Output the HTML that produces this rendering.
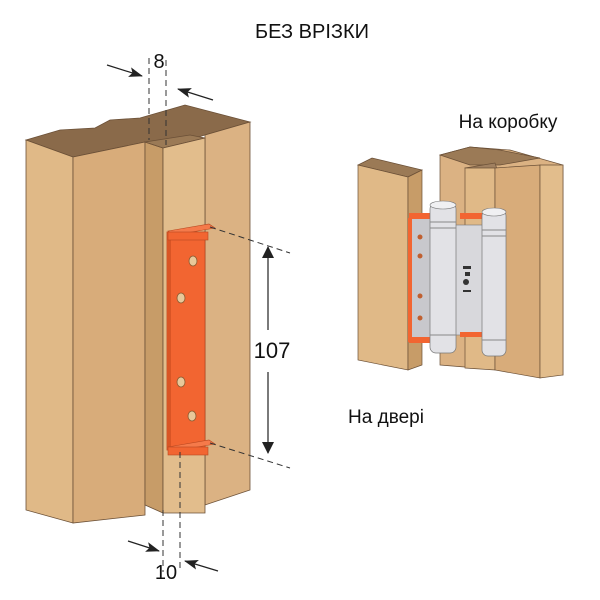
<!DOCTYPE html>
<html><head><meta charset="utf-8"><style>
html,body{margin:0;padding:0;background:#fff;width:600px;height:600px;overflow:hidden}
svg{display:block}
text{font-family:"Liberation Sans","DejaVu Sans",sans-serif;fill:#111}
</style></head><body>
<svg width="600" height="600" viewBox="0 0 600 600" xmlns="http://www.w3.org/2000/svg">
<defs>
<marker id="ah" markerWidth="14" markerHeight="12" refX="13" refY="6" orient="auto" markerUnits="userSpaceOnUse"><path d="M0,1 L14,6 L0,11 L3,6 Z" fill="#222"/></marker>
<marker id="ah2" markerWidth="12" markerHeight="14" refX="11" refY="6" orient="auto" markerUnits="userSpaceOnUse"><path d="M0,0 L12,6 L0,12 Z" fill="#222"/></marker>
</defs>
<text x="312" y="38" font-size="20" text-anchor="middle">БЕЗ ВРІЗКИ</text>
<text x="508" y="128" font-size="19" text-anchor="middle">На коробку</text>
<text x="386" y="423" font-size="19" text-anchor="middle">На двері</text>

<g stroke="#6b5037" stroke-width="0.8">
<polygon points="26,140 60,130 95,128 110,120 140,118 185,105 250,122 205,135 163,148 145,142 73,157" fill="#8a6a4a"/>
<polygon points="205,135 250,122 250,490 205,505" fill="#dbb283"/>
<polygon points="26,140 73,157 73,523 26,510" fill="#e0b987"/>
<polygon points="73,157 145,142 145,515 73,523" fill="#d8ac7a"/>
<polygon points="145,142 163,148 163,513 145,505" fill="#c79c68"/>
<polygon points="145,142 190,135 205,138 163,148" fill="#9b7a56"/>
<polygon points="163,148 205,138 205,513 163,513" fill="#e2bd8c"/>
</g>
<rect x="167" y="232" width="38" height="218" fill="#f26531" stroke="#b84820" stroke-width="0.8"/>
<rect x="167" y="232" width="4" height="218" fill="#d95525"/>
<polygon points="168,231 209,224 215,228 174,235" fill="#f57a4a" stroke="#b84820" stroke-width="0.6"/>
<rect x="168" y="232" width="40" height="8" fill="#f26531" stroke="#b84820" stroke-width="0.6"/>
<polygon points="168,447 209,440 215,444 174,451" fill="#f57a4a" stroke="#b84820" stroke-width="0.6"/>
<rect x="168" y="447" width="40" height="8" fill="#f26531" stroke="#b84820" stroke-width="0.6"/>
<g fill="#e8c89a" stroke="#8a5a30" stroke-width="0.8">
<ellipse cx="193" cy="261" rx="4" ry="5"/><ellipse cx="181" cy="298" rx="4" ry="5"/>
<ellipse cx="181" cy="382" rx="4" ry="5"/><ellipse cx="192" cy="416" rx="4" ry="5"/>
</g>
<g stroke="#333" stroke-width="1" stroke-dasharray="6,4" fill="none">
<line x1="149" y1="58" x2="149" y2="140"/><line x1="166" y1="60" x2="166" y2="145"/>
<line x1="210" y1="227" x2="290" y2="253"/><line x1="210" y1="443" x2="290" y2="468"/>
<line x1="163" y1="510" x2="163" y2="572"/><line x1="180" y1="452" x2="180" y2="572"/>
</g>
<g stroke="#222" stroke-width="1.2">
<line x1="107" y1="65" x2="142" y2="76" marker-end="url(#ah)"/>
<line x1="213" y1="100" x2="178" y2="89" marker-end="url(#ah)"/>
<line x1="128" y1="541" x2="159" y2="551" marker-end="url(#ah)"/>
<line x1="218" y1="571" x2="185" y2="561" marker-end="url(#ah)"/>
<line x1="268" y1="330" x2="268" y2="247" marker-end="url(#ah2)"/>
<line x1="268" y1="372" x2="268" y2="453" marker-end="url(#ah2)"/>
</g>
<text x="159" y="68" font-size="20" text-anchor="middle">8</text>
<text x="166" y="579" font-size="20" text-anchor="middle">10</text>
<text x="272" y="358" font-size="22" text-anchor="middle">107</text>

<g stroke="#6b5037" stroke-width="0.7">
<polygon points="440,155 470,147 510,150 563,165 563,375 440,365" fill="#dbb283"/>
<polygon points="440,155 470,147 500,150 540,158 500,165 470,165" fill="#9b7a56"/>
<polygon points="465,168 495,163 498,172 468,172" fill="#a08060"/>
<polygon points="465,168 495,168 495,370 465,368" fill="#e0b987"/>
<polygon points="495,168 540,165 540,378 495,370" fill="#d8ac7a"/>
<polygon points="540,165 563,165 563,375 540,378" fill="#e2bd8c"/>
<polygon points="358,165 372,158 422,170 408,177" fill="#9b7a56"/>
<polygon points="358,165 408,177 408,370 358,360" fill="#e0b987"/>
<polygon points="408,177 422,170 422,365 408,370" fill="#c79c68"/>
</g>
<polygon points="410,218 432,214 432,338 410,342" fill="#c8c8cc" stroke="#777" stroke-width="0.6"/>
<rect x="408" y="218" width="4" height="124" fill="#f26531"/>
<rect x="409" y="213" width="24" height="6" fill="#f26531"/>
<rect x="409" y="337" width="24" height="6" fill="#f26531"/>
<g fill="#c06030"><circle cx="420" cy="237" r="2.5"/><circle cx="420" cy="256" r="2.5"/><circle cx="420" cy="296" r="2.5"/><circle cx="420" cy="318" r="2.5"/></g>
<rect x="455" y="225" width="32" height="110" fill="#d8d8dc" stroke="#777" stroke-width="0.6"/>
<rect x="460" y="213" width="22" height="6" fill="#f26531"/>
<rect x="460" y="332" width="22" height="5" fill="#f26531"/>
<rect x="463" y="266" width="8" height="3" fill="#333"/>
<rect x="465" y="272" width="5" height="4" fill="#333"/>
<circle cx="466" cy="282" r="3" fill="#333"/>
<rect x="463" y="290" width="8" height="2" fill="#333"/>
<rect x="430" y="203" width="26" height="150" rx="6" fill="#e2e2e6" stroke="#777" stroke-width="0.7"/>
<ellipse cx="443" cy="205" rx="13" ry="4" fill="#f0f0f2" stroke="#777" stroke-width="0.6"/>
<line x1="430" y1="222" x2="456" y2="222" stroke="#888"/><line x1="430" y1="228" x2="456" y2="228" stroke="#888"/>
<line x1="430" y1="335" x2="456" y2="335" stroke="#888"/>
<rect x="482" y="210" width="24" height="146" rx="6" fill="#e2e2e6" stroke="#777" stroke-width="0.7"/>
<ellipse cx="494" cy="212" rx="12" ry="4" fill="#f0f0f2" stroke="#777" stroke-width="0.6"/>
<line x1="482" y1="230" x2="506" y2="230" stroke="#888"/><line x1="482" y1="236" x2="506" y2="236" stroke="#888"/>
<line x1="482" y1="340" x2="506" y2="340" stroke="#888"/>
</svg>
</body></html>
